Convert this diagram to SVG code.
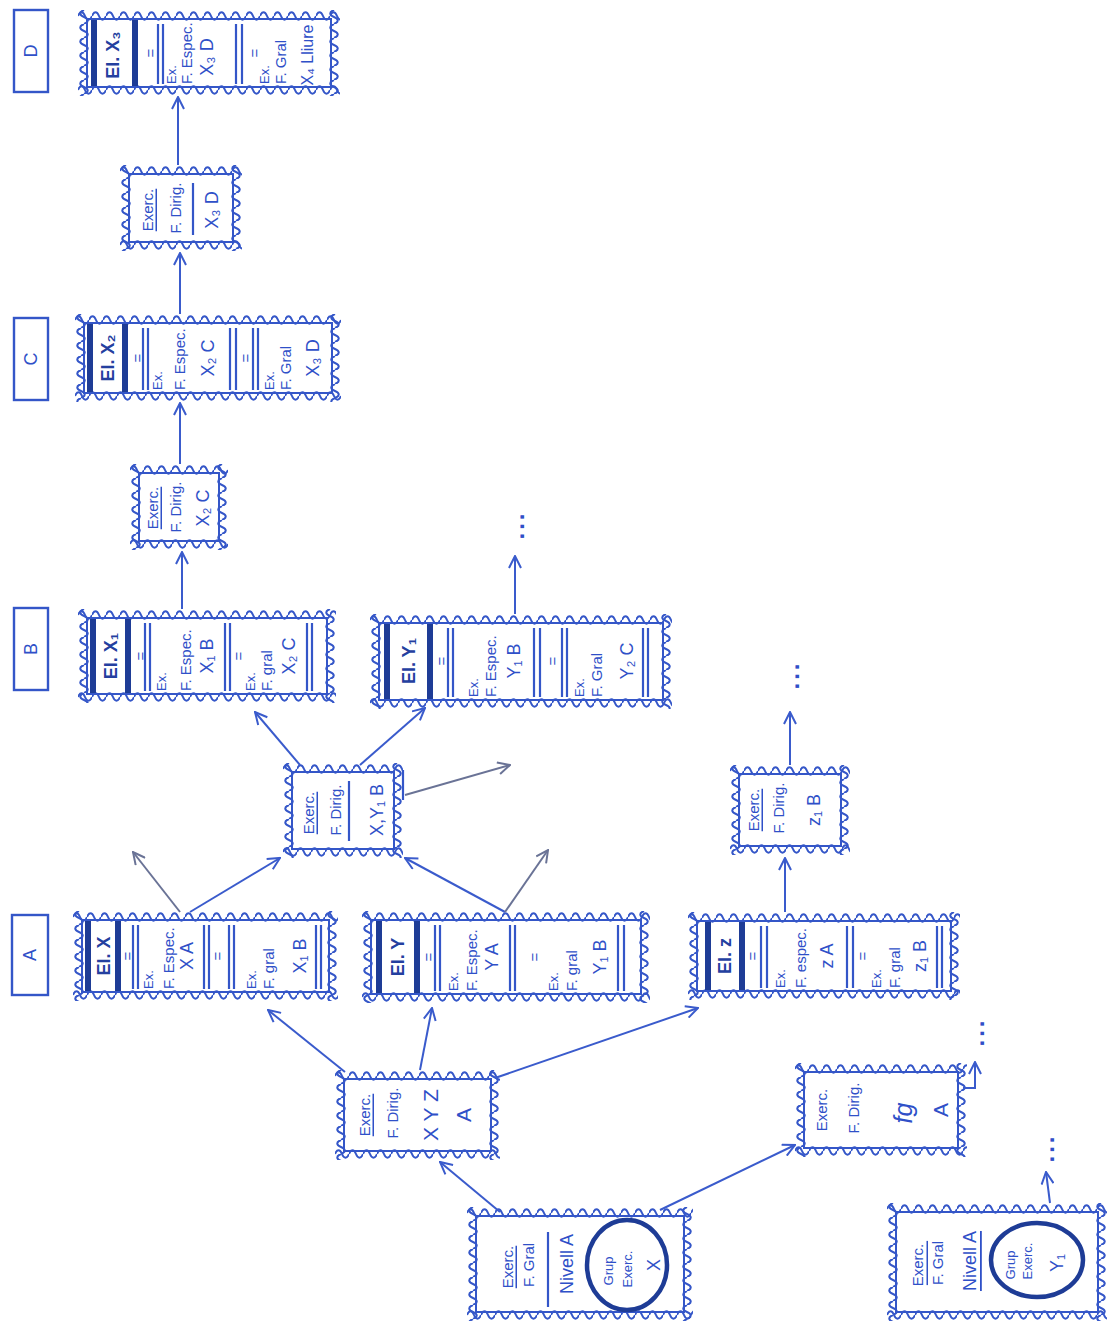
<svg xmlns="http://www.w3.org/2000/svg" width="1107" height="1321" viewBox="0 0 1107 1321">
<style>
text{font-family:"Liberation Sans",Arial,sans-serif;fill:#2f50c8;text-anchor:middle;dominant-baseline:central;font-size:15px}
.st{text-anchor:start}
.big{font-size:18px}
.lab{font-size:18px;font-weight:bold;fill:#24409f}
.sm{font-size:13px}
.wh{fill:url(#wh)}
.wv{fill:url(#wv)}
.in{fill:none;stroke:#3456c8;stroke-width:2}
.ln{fill:none;stroke:#3456c8;stroke-width:2.2}
.bar{fill:#1e3c96}
.lvl{fill:#fff;stroke:#3456c8;stroke-width:2.4}
.c{fill:none;stroke:#3a5bcc;stroke-width:2;marker-end:url(#ah)}
.g{fill:none;stroke:#6a7396;stroke-width:2;marker-end:url(#ag)}
.dots{font-size:24px;font-weight:bold;letter-spacing:3px}
.ell{fill:none;stroke:#1e3c96;stroke-width:4.5}
</style>
<defs>
<pattern id="wh" width="14" height="12" patternUnits="userSpaceOnUse"><path d="M0,6C2,1 5,1 7,6S12,11 14,6" fill="none" stroke="#3456c8" stroke-width="2"/></pattern>
<pattern id="wv" width="12" height="14" patternUnits="userSpaceOnUse"><path d="M6,0C1,2 1,5 6,7S11,12 6,14" fill="none" stroke="#3456c8" stroke-width="2"/></pattern>
<marker id="ah" viewBox="0 0 14 14" refX="13" refY="7" markerWidth="14" markerHeight="14" markerUnits="userSpaceOnUse" orient="auto"><path d="M1,1L13,7L1,13" fill="none" stroke="#3a5bcc" stroke-width="2"/></marker>
<marker id="ag" viewBox="0 0 14 14" refX="13" refY="7" markerWidth="14" markerHeight="14" markerUnits="userSpaceOnUse" orient="auto"><path d="M1,1L13,7L1,13" fill="none" stroke="#6a7396" stroke-width="2"/></marker>
</defs>
<rect width="1107" height="1321" fill="#fff"/>

<g id="lvl-D"><rect class="lvl" x="14" y="10" width="34" height="82"/><text class="big" transform="translate(31,51) rotate(-90)">D</text></g>
<g id="lvl-C"><rect class="lvl" x="14" y="318" width="34" height="82"/><text class="big" transform="translate(31,359) rotate(-90)">C</text></g>
<g id="lvl-B"><rect class="lvl" x="14" y="608" width="34" height="82"/><text class="big" transform="translate(31,649) rotate(-90)">B</text></g>
<g id="lvl-A"><rect class="lvl" x="12" y="915" width="36" height="80"/><text class="big" transform="translate(30,955) rotate(-90)">A</text></g>

<g id="el-x3" transform="translate(78,10)">
<rect class="wh" width="262" height="12"/><rect class="wh" width="262" height="12" transform="translate(0,74)"/>
<rect class="wv" width="12" height="86"/><rect class="wv" width="12" height="86" transform="translate(250,0)"/>
<rect class="in" x="9" y="9" width="244" height="68"/>
<rect class="bar" x="13" y="10" width="6" height="66"/><rect class="bar" x="54" y="10" width="6" height="66"/>
<text class="lab" transform="translate(35,45) rotate(-90)">El. X₃</text>
<text transform="translate(72,43) rotate(-90)">=</text>
<path class="ln" d="M80,14V74M85,14V74M158,14V74M164,14V74"/>
<text class="sm st" transform="translate(93,74) rotate(-90)">Ex.</text>
<text class="st" transform="translate(108,74) rotate(-90)">F. Espec.</text>
<text class="big" transform="translate(129,47) rotate(-90)">X₃ D</text>
<text transform="translate(176,43) rotate(-90)">=</text>
<text class="sm st" transform="translate(186,74) rotate(-90)">Ex.</text>
<text class="st" transform="translate(202,74) rotate(-90)">F. Gral</text>
<text class="big" transform="translate(229,45) rotate(-90)" style="font-size:16px">X₄ Lliure</text>
</g>

<g id="ex-x3" transform="translate(120,165)">
<rect class="wh" width="122" height="12"/><rect class="wh" width="122" height="12" transform="translate(0,74)"/>
<rect class="wv" width="12" height="86"/><rect class="wv" width="12" height="86" transform="translate(110,0)"/>
<rect class="in" x="9" y="9" width="104" height="68"/>
<text transform="translate(27,45) rotate(-90)" text-decoration="underline">Exerc.</text>
<text transform="translate(55,43) rotate(-90)">F. Dirig.</text>
<path class="ln" d="M73,18V70"/>
<text class="big" transform="translate(92,45) rotate(-90)">X₃ D</text>
</g>

<g id="el-x2" transform="translate(75,314)">
<rect class="wh" width="266" height="12"/><rect class="wh" width="266" height="12" transform="translate(0,76)"/>
<rect class="wv" width="12" height="88"/><rect class="wv" width="12" height="88" transform="translate(254,0)"/>
<rect class="in" x="9" y="9" width="248" height="70"/>
<rect class="bar" x="12" y="10" width="6" height="68"/><rect class="bar" x="47" y="10" width="6" height="68"/>
<text class="lab" transform="translate(33,44) rotate(-90)">El. X₂</text>
<text transform="translate(62,44) rotate(-90)">=</text>
<path class="ln" d="M68,14V76M73,14V76M155,14V76M161,14V76M178,14V76M183,14V76"/>
<text class="sm st" transform="translate(82,76) rotate(-90)">Ex.</text>
<text class="st" transform="translate(104,76) rotate(-90)">F. Espec.</text>
<text class="big" transform="translate(133,44) rotate(-90)">X₂ C</text>
<text transform="translate(170,44) rotate(-90)">=</text>
<text class="sm st" transform="translate(194,76) rotate(-90)">Ex.</text>
<text class="st" transform="translate(210,76) rotate(-90)">F. Gral</text>
<text class="big" transform="translate(238,44) rotate(-90)">X₃ D</text>
</g>

<g id="ex-x2" transform="translate(130,464)">
<rect class="wh" width="98" height="12"/><rect class="wh" width="98" height="12" transform="translate(0,74)"/>
<rect class="wv" width="12" height="86"/><rect class="wv" width="12" height="86" transform="translate(86,0)"/>
<rect class="in" x="9" y="9" width="80" height="68"/>
<text transform="translate(22,44) rotate(-90)" text-decoration="underline">Exerc.</text>
<text transform="translate(45,43) rotate(-90)">F. Dirig.</text>
<text class="big" transform="translate(73,44) rotate(-90)">X₂ C</text>
</g>

<g id="el-x1" transform="translate(78,609)">
<rect class="wh" width="258" height="12"/><rect class="wh" width="258" height="12" transform="translate(0,82)"/>
<rect class="wv" width="12" height="94"/><rect class="wv" width="12" height="94" transform="translate(246,0)"/>
<rect class="in" x="9" y="9" width="240" height="76"/>
<rect class="bar" x="12" y="10" width="6" height="74"/><rect class="bar" x="47" y="10" width="6" height="74"/>
<text class="lab" transform="translate(33,47) rotate(-90)">El. X₁</text>
<text transform="translate(62,47) rotate(-90)">=</text>
<path class="ln" d="M67,14V82M72,14V82M147,14V82M152,14V82M229,14V82M234,14V82"/>
<text class="sm st" transform="translate(83,82) rotate(-90)">Ex.</text>
<text class="st" transform="translate(107,82) rotate(-90)">F. Espec.</text>
<text class="big" transform="translate(129,47) rotate(-90)">X₁ B</text>
<text transform="translate(160,47) rotate(-90)">=</text>
<text class="sm st" transform="translate(172,82) rotate(-90)">Ex.</text>
<text class="st" transform="translate(188,82) rotate(-90)">F. gral</text>
<text class="big" transform="translate(211,47) rotate(-90)">X₂ C</text>
</g>

<g id="el-y1" transform="translate(370,614)">
<rect class="wh" width="302" height="12"/><rect class="wh" width="302" height="12" transform="translate(0,83)"/>
<rect class="wv" width="12" height="95"/><rect class="wv" width="12" height="95" transform="translate(290,0)"/>
<rect class="in" x="9" y="9" width="284" height="77"/>
<rect class="bar" x="14" y="10" width="6" height="75"/><rect class="bar" x="57" y="10" width="6" height="75"/>
<text class="lab" transform="translate(39,47) rotate(-90)">El. Y₁</text>
<text transform="translate(71,47) rotate(-90)">=</text>
<path class="ln" d="M78,14V83M83,14V83M164,14V83M170,14V83M192,14V83M197,14V83M273,14V83M278,14V83"/>
<text class="sm st" transform="translate(103,83) rotate(-90)">Ex.</text>
<text class="st" transform="translate(120,83) rotate(-90)">F. Espec.</text>
<text class="big" transform="translate(144,47) rotate(-90)">Y₁ B</text>
<text transform="translate(182,47) rotate(-90)">=</text>
<text class="sm st" transform="translate(209,83) rotate(-90)">Ex.</text>
<text class="st" transform="translate(226,83) rotate(-90)">F. Gral</text>
<text class="big" transform="translate(257,47) rotate(-90)">Y₂ C</text>
</g>

<g id="ex-xy" transform="translate(283,763)">
<rect class="wh" width="120" height="12"/><rect class="wh" width="120" height="12" transform="translate(0,83)"/>
<rect class="wv" width="12" height="95"/><rect class="wv" width="12" height="95" transform="translate(108,0)"/>
<rect class="in" x="9" y="9" width="102" height="77"/>
<text transform="translate(25,50) rotate(-90)" text-decoration="underline">Exerc.</text>
<text transform="translate(52,47) rotate(-90)">F. Dirig.</text>
<path class="ln" d="M66,18V78M120,7V37"/>
<text class="big" transform="translate(94,47) rotate(-90)">X,Y₁ B</text>
</g>

<g id="el-x" transform="translate(73,911)">
<rect class="wh" width="265" height="12"/><rect class="wh" width="265" height="12" transform="translate(0,78)"/>
<rect class="wv" width="12" height="90"/><rect class="wv" width="12" height="90" transform="translate(253,0)"/>
<rect class="in" x="9" y="9" width="247" height="72"/>
<rect class="bar" x="12" y="10" width="6" height="70"/><rect class="bar" x="42" y="10" width="6" height="70"/>
<text class="lab" transform="translate(31,45) rotate(-90)">El. X</text>
<text transform="translate(54,45) rotate(-90)">=</text>
<path class="ln" d="M60,14V78M65,14V78M131,14V78M136,14V78M156,14V78M161,14V78M243,14V78M248,14V78"/>
<text class="sm st" transform="translate(75,78) rotate(-90)">Ex.</text>
<text class="st" transform="translate(95,78) rotate(-90)">F. Espec.</text>
<text class="big" transform="translate(114,45) rotate(-90)">X A</text>
<text transform="translate(144,45) rotate(-90)">=</text>
<text class="sm st" transform="translate(178,78) rotate(-90)">Ex.</text>
<text class="st" transform="translate(195,78) rotate(-90)">F. gral</text>
<text class="big" transform="translate(227,45) rotate(-90)">X₁ B</text>
</g>

<g id="el-y" transform="translate(362,911)">
<rect class="wh" width="288" height="12"/><rect class="wh" width="288" height="12" transform="translate(0,80)"/>
<rect class="wv" width="12" height="92"/><rect class="wv" width="12" height="92" transform="translate(276,0)"/>
<rect class="in" x="9" y="9" width="270" height="74"/>
<rect class="bar" x="14" y="10" width="6" height="72"/><rect class="bar" x="52" y="10" width="6" height="72"/>
<text class="lab" transform="translate(36,46) rotate(-90)">El. Y</text>
<text transform="translate(66,46) rotate(-90)">=</text>
<path class="ln" d="M73,14V80M78,14V80M148,14V80M153,14V80M256,14V80M262,14V80"/>
<text class="sm st" transform="translate(91,80) rotate(-90)">Ex.</text>
<text class="st" transform="translate(109,80) rotate(-90)">F. Espec.</text>
<text class="big" transform="translate(130,46) rotate(-90)">Y A</text>
<text transform="translate(172,46) rotate(-90)">=</text>
<text class="sm st" transform="translate(191,80) rotate(-90)">Ex.</text>
<text class="st" transform="translate(209,80) rotate(-90)">F. gral</text>
<text class="big" transform="translate(238,46) rotate(-90)">Y₁ B</text>
</g>

<g id="el-z" transform="translate(688,912)">
<rect class="wh" width="272" height="12"/><rect class="wh" width="272" height="12" transform="translate(0,76)"/>
<rect class="wv" width="12" height="88"/><rect class="wv" width="12" height="88" transform="translate(260,0)"/>
<rect class="in" x="9" y="9" width="254" height="70"/>
<rect class="bar" x="17" y="10" width="6" height="68"/><rect class="bar" x="51" y="10" width="6" height="68"/>
<text class="lab" transform="translate(37,44) rotate(-90)">El. z</text>
<text transform="translate(64,44) rotate(-90)">=</text>
<path class="ln" d="M73,14V76M79,14V76M159,14V76M165,14V76M249,14V76M254,14V76"/>
<text class="sm st" transform="translate(92,76) rotate(-90)">Ex.</text>
<text class="st" transform="translate(112,76) rotate(-90)">F. espec.</text>
<text class="big" transform="translate(139,44) rotate(-90)">z A</text>
<text transform="translate(174,44) rotate(-90)">=</text>
<text class="sm st" transform="translate(188,76) rotate(-90)">Ex.</text>
<text class="st" transform="translate(206,76) rotate(-90)">F. gral</text>
<text class="big" transform="translate(232,44) rotate(-90)">z₁ B</text>
</g>

<g id="ex-z" transform="translate(730,765)">
<rect class="wh" width="120" height="12"/><rect class="wh" width="120" height="12" transform="translate(0,78)"/>
<rect class="wv" width="12" height="90"/><rect class="wv" width="12" height="90" transform="translate(108,0)"/>
<rect class="in" x="9" y="9" width="102" height="72"/>
<text transform="translate(23,45) rotate(-90)" text-decoration="underline">Exerc.</text>
<text transform="translate(48,43) rotate(-90)">F. Dirig.</text>
<text class="big" transform="translate(84,45) rotate(-90)">z₁ B</text>
</g>

<g id="ex-xyz" transform="translate(335,1070)">
<rect class="wh" width="165" height="12"/><rect class="wh" width="165" height="12" transform="translate(0,78)"/>
<rect class="wv" width="12" height="90"/><rect class="wv" width="12" height="90" transform="translate(153,0)"/>
<rect class="in" x="9" y="9" width="147" height="72"/>
<text transform="translate(29,45) rotate(-90)" text-decoration="underline">Exerc.</text>
<text transform="translate(57,43) rotate(-90)">F. Dirig.</text>
<text class="big" transform="translate(95,45) rotate(-90)" style="font-size:21px">X Y Z</text>
<text class="big" transform="translate(128,45) rotate(-90)" style="font-size:21px">A</text>
</g>

<g id="ex-fg" transform="translate(795,1063)">
<rect class="wh" width="172" height="12"/><rect class="wh" width="172" height="12" transform="translate(0,82)"/>
<rect class="wv" width="12" height="94"/><rect class="wv" width="12" height="94" transform="translate(160,0)"/>
<rect class="in" x="9" y="9" width="154" height="76"/>
<text transform="translate(26,47) rotate(-90)">Exerc.</text>
<text transform="translate(58,45) rotate(-90)">F. Dirig.</text>
<text class="big" transform="translate(108,50) rotate(-90)" style="font-size:25px;font-style:italic">fg</text>
<text class="big" transform="translate(145,47) rotate(-90)" style="font-size:21px">A</text>
</g>

<g id="gral-x" transform="translate(467,1207)">
<rect class="wh" width="226" height="12"/><rect class="wh" width="226" height="12" transform="translate(0,102)"/>
<rect class="wv" width="12" height="114"/><rect class="wv" width="12" height="114" transform="translate(214,0)"/>
<rect class="in" x="9" y="9" width="208" height="96"/>
<text transform="translate(40,60) rotate(-90)" text-decoration="underline">Exerc.</text>
<text transform="translate(61,58) rotate(-90)">F. Gral</text>
<path class="ln" d="M81,25V100"/>
<text class="big" transform="translate(100,57) rotate(-90)">Nivell A</text>
<ellipse class="ell" cx="160" cy="58" rx="40" ry="45"/>
<text class="sm" transform="translate(141,64) rotate(-90)">Grup</text>
<text class="sm" transform="translate(160,62) rotate(-90)">Exerc.</text>
<text class="big" transform="translate(187,58) rotate(-90)">X</text>
</g>

<g id="gral-y1" transform="translate(887,1203)">
<rect class="wh" width="220" height="12"/><rect class="wh" width="220" height="12" transform="translate(0,106)"/>
<rect class="wv" width="12" height="118"/><rect class="wv" width="12" height="118" transform="translate(208,0)"/>
<rect class="in" x="9" y="9" width="202" height="100"/>
<text transform="translate(30,62) rotate(-90)">Exerc.</text>
<text transform="translate(50,60) rotate(-90)" text-decoration="overline">F. Gral</text>
<text class="big" transform="translate(83,58) rotate(-90)" text-decoration="underline">Nivell A</text>
<ellipse class="ell" cx="150" cy="57" rx="46" ry="37"/>
<text class="sm" transform="translate(123,62) rotate(-90)">Grup</text>
<text class="sm" transform="translate(140,58) rotate(-90)">Exerc.</text>
<text class="big" transform="translate(170,60) rotate(-90)">Y₁</text>
</g>

<g id="connectors">
<path class="c" d="M178,165V97"/>
<path class="c" d="M180,314V253"/>
<path class="c" d="M180,464V403"/>
<path class="c" d="M182,609V552"/>
<path class="c" d="M515,614V556"/>
<path class="c" d="M300,765L255,712"/>
<path class="c" d="M360,765L425,708"/>
<path class="g" d="M405,795L510,765"/>
<path class="c" d="M190,912L280,858"/>
<path class="g" d="M180,912L133,852"/>
<path class="c" d="M505,912L405,858"/>
<path class="g" d="M505,912L548,850"/>
<path class="c" d="M345,1072L268,1010"/>
<path class="c" d="M420,1070L432,1008"/>
<path class="c" d="M495,1078L698,1008"/>
<path class="c" d="M785,912V858"/>
<path class="c" d="M790,765V712"/>
<path class="c" d="M500,1212L440,1162"/>
<path class="c" d="M660,1210L795,1145"/>
<path class="c" d="M963,1088H975V1062"/>
<path class="c" d="M1050,1203L1046,1172"/>
<text class="dots" transform="translate(515,525) rotate(-90)">...</text>
<text class="dots" transform="translate(790,675) rotate(-90)">...</text>
<text class="dots" transform="translate(975,1032) rotate(-90)">...</text>
<text class="dots" transform="translate(1045,1148) rotate(-90)">...</text>
</g>
</svg>
